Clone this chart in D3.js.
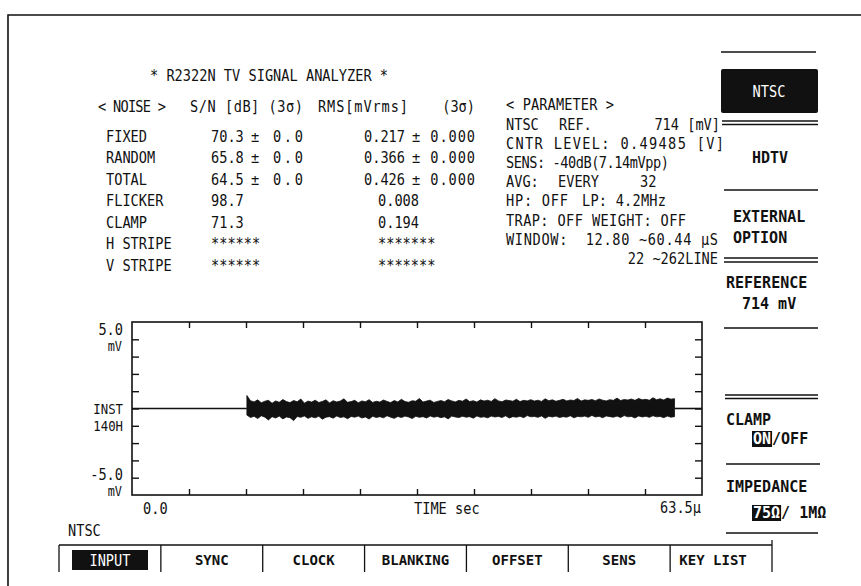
<!DOCTYPE html>
<html>
<head>
<meta charset="utf-8">
<script src="https://cdn.jsdelivr.net/npm/d3@7"></script>
<style>
  html, body { margin: 0; padding: 0; background: #fff; }
  svg { display: block; }
  text { font-family: "DejaVu Sans Mono", "Liberation Mono", monospace; fill: #111; white-space: pre; }
  .b { font-weight: bold; }
</style>
</head>
<body>
<svg id="screen" width="861" height="586"></svg>
<script>
// ---- measurement data ----
const title = "* R2322N TV SIGNAL ANALYZER *";
const noiseItems = ["FIXED", "RANDOM", "TOTAL", "FLICKER", "CLAMP", "H STRIPE", "V STRIPE"];
const snValues   = ["70.3", "65.8", "64.5", "98.7", "71.3", "******", "******"];
const snSigma    = ["± 0.0", "± 0.0", "± 0.0", "", "", "", ""];
const rmsValues  = ["0.217", "0.366", "0.426", "0.008", "0.194", "*******", "*******"];
const rmsSigma   = ["± 0.000", "± 0.000", "± 0.000", "", "", "", ""];
const paramLines = [
  ["NTSC", "REF.", "714 [mV]"],
  ["CNTR LEVEL: 0.49485 [V]"],
  ["SENS: -40dB(7.14mVpp)"],
  ["AVG:", "EVERY", "32"],
  ["HP: OFF", "LP: 4.2MHz"],
  ["TRAP: OFF WEIGHT: OFF"],
  ["WINDOW:  12.80 ~60.44 μS"],
  ["22 ~262LINE"]
];
const softKeys = ["INPUT", "SYNC", "CLOCK", "BLANKING", "OFFSET", "SENS", "KEY LIST"];

// waveform: 0 mV outside the measuring window, noise envelope (mV) inside it
const sweepEnd = 63.5;           // μs
const windowStart = 12.80;       // μs
const windowEnd = 60.44;         // μs
const noiseUpper = [
  0.75,0.45,0.38,0.50,0.33,0.42,0.47,0.30,0.44,0.36,0.52,0.40,0.34,0.46,0.39,0.55,0.31,0.43,0.37,0.48,
  0.35,0.41,0.50,0.32,0.45,0.38,0.43,0.56,0.36,0.40,0.47,0.33,0.44,0.39,0.51,0.35,0.42,0.37,0.49,0.41,
  0.34,0.46,0.38,0.53,0.40,0.36,0.45,0.42,0.58,0.37,0.43,0.48,0.35,0.41,0.46,0.39,0.52,0.44,0.38,0.47,
  0.42,0.55,0.40,0.45,0.37,0.50,0.43,0.48,0.41,0.57,0.44,0.39,0.49,0.46,0.42,0.53,0.40,0.47,0.44,0.51,
  0.43,0.48,0.41,0.56,0.45,0.50,0.42,0.47,0.53,0.44,0.49,0.46,0.58,0.43,0.50,0.47,0.52,0.45,0.55,0.48,
  0.44,0.51,0.47,0.60,0.46,0.52,0.49,0.55,0.47,0.58,0.50,0.53,0.48,0.62,0.51,0.56,0.49,0.60,0.54,0.57];
const noiseLower = [
  -0.38,-0.52,-0.45,-0.58,-0.42,-0.50,-0.66,-0.47,-0.55,-0.44,-0.60,-0.49,-0.53,-0.70,-0.46,-0.51,-0.43,-0.57,-0.48,-0.54,
  -0.45,-0.62,-0.50,-0.47,-0.56,-0.43,-0.52,-0.48,-0.59,-0.46,-0.50,-0.44,-0.55,-0.49,-0.61,-0.45,-0.52,-0.47,-0.54,-0.42,
  -0.50,-0.57,-0.46,-0.52,-0.44,-0.49,-0.58,-0.45,-0.51,-0.47,-0.55,-0.43,-0.50,-0.46,-0.53,-0.48,-0.60,-0.44,-0.49,-0.52,
  -0.45,-0.50,-0.47,-0.56,-0.43,-0.51,-0.48,-0.54,-0.44,-0.49,-0.46,-0.52,-0.42,-0.55,-0.47,-0.50,-0.45,-0.53,-0.41,-0.48,
  -0.46,-0.51,-0.43,-0.57,-0.45,-0.49,-0.44,-0.52,-0.47,-0.50,-0.42,-0.54,-0.46,-0.48,-0.44,-0.51,-0.40,-0.49,-0.45,-0.53,
  -0.43,-0.47,-0.50,-0.44,-0.52,-0.41,-0.48,-0.46,-0.55,-0.43,-0.49,-0.45,-0.51,-0.42,-0.48,-0.46,-0.53,-0.44,-0.50,-0.47];

// ---- drawing ----
const svg = d3.select("#screen");
svg.append("rect").attr("width", 861).attr("height", 586).attr("fill", "#fff");

// outer screen frame
svg.append("path").attr("d", "M8,586 L8,15 L861,15")
  .attr("fill", "none").attr("stroke", "#111").attr("stroke-width", 1.6);

// screen text: tall, slightly condensed characters for the plain font
function txt(x, y, s, opts = {}) {
  const sx = opts.bold ? 1 : 0.88;
  const t = svg.append("text")
    .attr("transform", `translate(${x},${y}) scale(${sx},1)`)
    .text(s)
    .attr("font-size", opts.size || (opts.bold ? 15 : 15.5));
  if (opts.anchor) t.attr("text-anchor", opts.anchor);
  if (opts.bold) t.attr("class", "b");
  if (opts.fill) t.style("fill", opts.fill);
  if (opts.len) t.attr("textLength", opts.len / sx).attr("lengthAdjust", "spacing");
  return t;
}

// title and noise table
txt(150, 80.5, title, { len: 238 });
txt(98, 111.5, "< NOISE >", { len: 68 });
txt(190, 111.5, "S/N [dB] (3σ)", { len: 113 });
txt(318, 111.5, "RMS[mVrms]", { len: 90 });
txt(475, 111.5, "(3σ)", { anchor: "end" });
noiseItems.forEach((name, i) => {
  const y = 141.5 + i * 21.5;
  txt(106, y, name);
  txt(211, y, snValues[i]);
  if (snSigma[i]) txt(251, y, snSigma[i], { len: 52 });
  txt(i < 3 ? 364 : 378, y, rmsValues[i]);
  if (rmsSigma[i]) txt(412, y, rmsSigma[i], { len: 63 });
});

// parameter block
txt(506, 110, "< PARAMETER >", { len: 108 });
const pRow = i => 129.5 + i * 19.2;
txt(506, pRow(0), paramLines[0][0]);
txt(559, pRow(0), paramLines[0][1]);
txt(720, pRow(0), paramLines[0][2], { anchor: "end" });
txt(506, pRow(1), paramLines[1][0], { len: 218 });
txt(506, pRow(2), paramLines[2][0], { len: 163 });
txt(506, pRow(3), paramLines[3][0]);
txt(558, pRow(3), paramLines[3][1]);
txt(640, pRow(3), paramLines[3][2]);
txt(506, pRow(4), paramLines[4][0], { len: 62 });
txt(582, pRow(4), paramLines[4][1], { len: 84 });
txt(506, pRow(5), paramLines[5][0], { len: 180 });
txt(506, pRow(6), paramLines[6][0], { len: 212 });
txt(718, pRow(7), paramLines[7][0], { anchor: "end" });

// ---- waveform plot ----
const plot = { left: 132, right: 702, top: 322, bottom: 495 };
const x = d3.scaleLinear().domain([0, sweepEnd]).range([plot.left, plot.right]);
const y = d3.scaleLinear().domain([-5, 5]).range([plot.bottom, plot.top]);
const g = svg.append("g");

g.append("rect").attr("x", plot.left).attr("y", plot.top)
  .attr("width", plot.right - plot.left).attr("height", plot.bottom - plot.top)
  .attr("fill", "none").attr("stroke", "#111").attr("stroke-width", 1.6);

const xTicks = d3.range(1, 10).map(k => k * sweepEnd / 10);
const yTicks = d3.range(-4, 5);
const tick = 6;
g.append("g").call(d3.axisBottom(x).tickValues(xTicks).tickSize(tick).tickFormat(""))
  .attr("transform", `translate(0,${plot.top})`);
g.append("g").call(d3.axisTop(x).tickValues(xTicks).tickSize(tick).tickFormat(""))
  .attr("transform", `translate(0,${plot.bottom})`);
g.append("g").call(d3.axisRight(y).tickValues(yTicks).tickSize(tick + 1).tickFormat(""))
  .attr("transform", `translate(${plot.left},0)`);
g.append("g").call(d3.axisLeft(y).tickValues(yTicks).tickSize(tick + 1).tickFormat(""))
  .attr("transform", `translate(${plot.right},0)`);
g.selectAll(".domain").remove();
g.selectAll(".tick line").attr("stroke", "#111").attr("stroke-width", 1.4);

// flat trace outside the window
const flat = d3.line().x(d => x(d[0])).y(d => y(d[1]));
g.append("path").attr("d", flat([[0, 0], [windowStart, 0]]))
  .attr("stroke", "#111").attr("stroke-width", 1.6).attr("fill", "none");
g.append("path").attr("d", flat([[windowEnd, 0], [sweepEnd, 0]]))
  .attr("stroke", "#111").attr("stroke-width", 1.6).attr("fill", "none");

// noise band inside the window
const idx = d3.scaleLinear().domain([0, noiseUpper.length - 1]).range([windowStart, windowEnd]);
const band = d3.area()
  .x((d, i) => x(idx(i)))
  .y0((d, i) => y(noiseLower[i]))
  .y1((d, i) => y(noiseUpper[i]));
g.append("path").attr("d", band(noiseUpper))
  .attr("fill", "#111").attr("stroke", "#111").attr("stroke-width", 0.8);

// axis labels
txt(123, 335, "5.0", { anchor: "end" });
txt(122, 351, "mV", { anchor: "end", size: 13.5 });
txt(123, 414, "INST", { anchor: "end", size: 14 });
txt(123, 431, "140H", { anchor: "end", size: 14 });
txt(123, 480, "-5.0", { anchor: "end" });
txt(122, 496, "mV", { anchor: "end", size: 13.5 });
txt(143, 514, "0.0");
txt(414, 514, "TIME sec");
txt(701, 513, "63.5μ", { anchor: "end" });
txt(68, 536, "NTSC");

// ---- right-hand soft panel ----
function hline(yy, x0 = 722, x1 = 818) {
  svg.append("line").attr("x1", x0).attr("x2", x1).attr("y1", yy).attr("y2", yy)
    .attr("stroke", "#111").attr("stroke-width", 1.5);
}
hline(52, 721, 816);
svg.append("rect").attr("x", 721).attr("y", 69).attr("width", 97).attr("height", 44)
  .attr("rx", 2).attr("fill", "#111");
txt(769, 96.5, "NTSC", { anchor: "middle", fill: "#fff" });
hline(121); hline(124.5);
txt(770, 163, "HDTV", { anchor: "middle", bold: true });
hline(190, 724, 818);
txt(733, 222, "EXTERNAL", { bold: true });
txt(733, 243, "OPTION", { bold: true });
hline(258, 724, 818); hline(262, 724, 818);
txt(726, 288, "REFERENCE", { bold: true });
txt(742, 309, "714 mV", { bold: true });
hline(328, 724, 818);
hline(395, 725, 818); hline(398.5, 725, 818);
txt(726, 425, "CLAMP", { bold: true });
hline(464, 726, 820);
txt(726, 492, "IMPEDANCE", { bold: true });
hline(533, 726, 818);

// highlighted choice followed by the other option
function choice(x0, yy, on, rest) {
  const t = txt(x0, yy, on, { bold: true, fill: "#fff" });
  const bb = t.node().getBBox();
  svg.insert("rect", () => t.node()).attr("x", x0 + bb.x - 1).attr("y", yy + bb.y + 1)
    .attr("width", bb.width + 2).attr("height", bb.height - 2).attr("fill", "#111");
  txt(x0 + bb.x + bb.width + 1, yy, rest, { bold: true });
}
choice(753, 444, "ON", "/OFF");
choice(753, 518, "75Ω", "/ 1MΩ");

// ---- soft keys along the bottom ----
const keyX = d3.scaleLinear().domain([0, softKeys.length]).range([59, 772]);
svg.append("line").attr("x1", keyX(0)).attr("x2", keyX(softKeys.length))
  .attr("y1", 545).attr("y2", 545).attr("stroke", "#111").attr("stroke-width", 1.5);
d3.range(softKeys.length + 1).forEach(k => {
  svg.append("line").attr("x1", keyX(k)).attr("x2", keyX(k))
    .attr("y1", k === softKeys.length ? 540 : 545).attr("y2", 572)
    .attr("stroke", "#111").attr("stroke-width", 1.3);
});
softKeys.forEach((s, k) => {
  const cx = (keyX(k) + keyX(k + 1)) / 2;
  if (k === 0) {
    svg.append("rect").attr("x", 72).attr("y", 550).attr("width", 76).attr("height", 20).attr("fill", "#111");
    txt(cx, 565.5, s, { anchor: "middle", fill: "#fff" });
  } else {
    txt(k === softKeys.length - 1 ? cx - 8 : cx, 564.5, s, { anchor: "middle", bold: true, size: 14 });
  }
});
</script>
</body>
</html>
